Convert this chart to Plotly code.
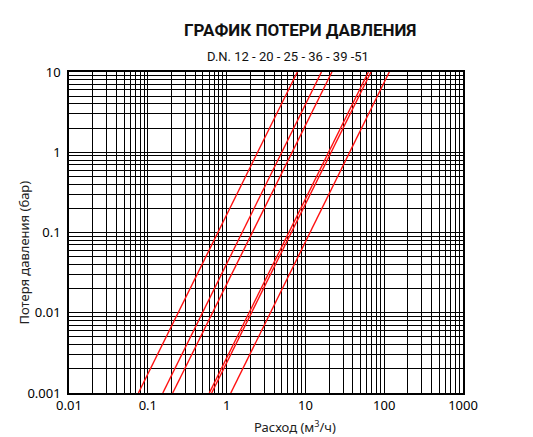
import plotly.graph_objects as go

# pressure loss chart, D.N. 12 - 51
dn_names = ["DN 12", "DN 20", "DN 25", "DN 36", "DN 39", "DN 51"]
# flow (m3/h) where each line crosses 0.001 bar and 10 bar
flow_at_min = [0.076, 0.155, 0.207, 0.603, 0.646, 1.13]
flow_at_max = [7.9, 16.0, 21.7, 63.0, 68.0, 116.0]
loss_ends = [0.001, 10]

x_ticks = [0.01, 0.1, 1, 10, 100, 1000]
x_labels = ["0.01", "0.1", "1", "10", "100", "1000"]
y_ticks = [0.001, 0.01, 0.1, 1, 10]
y_labels = ["0.001", "0.01", "0.1", "1", "10"]


def minor_vals(decades):
    vals = []
    for d in decades:
        for m in range(2, 10):
            vals.append(m * d)
    return vals


fig = go.Figure()
for name, q0, q1 in zip(dn_names, flow_at_min, flow_at_max):
    fig.add_trace(go.Scatter(
        x=[q0, q1], y=loss_ends, mode="lines", name=name,
        line=dict(color="#ff1010", width=1.4),
    ))

fig.update_xaxes(
    type="log", range=[-2, 3],
    tickmode="array", tickvals=x_ticks, ticktext=x_labels,
    showgrid=True, gridcolor="black", gridwidth=1,
    minor=dict(tickmode="array", tickvals=minor_vals(x_ticks[:-1]),
               showgrid=True, gridcolor="black", gridwidth=1),
    showline=True, linecolor="black", linewidth=1.5, mirror=True,
    ticks="", zeroline=False,
    tickfont=dict(family="Noto Sans", size=13, color="black"),
)
fig.update_yaxes(
    type="log", range=[-3, 1],
    tickmode="array", tickvals=y_ticks, ticktext=y_labels,
    showgrid=True, gridcolor="black", gridwidth=1,
    minor=dict(tickmode="array", tickvals=minor_vals(y_ticks[:-1]),
               showgrid=True, gridcolor="black", gridwidth=1),
    showline=True, linecolor="black", linewidth=1.5, mirror=True,
    ticks="", zeroline=False, ticklabelstandoff=4,
    tickfont=dict(family="Noto Sans", size=13, color="black"),
)

fig.add_annotation(
    text="<b>ГРАФИК ПОТЕРИ ДАВЛЕНИЯ</b>", xref="paper", yref="paper",
    x=0.587, y=1.131, xanchor="center", yanchor="middle", showarrow=False,
    font=dict(family="Roboto", size=17, color="#111"),
)
fig.add_annotation(
    text="D.N. 12 - 20 - 25 - 36 - 39 -51", xref="paper", yref="paper",
    x=0.555, y=1.047, xanchor="center", yanchor="middle", showarrow=False,
    font=dict(family="Roboto", size=13, color="#111"),
)
fig.add_annotation(
    text="Расход (м<sup>3</sup>/ч)", xref="paper", yref="paper",
    x=0.574, y=-0.103, xanchor="center", yanchor="middle", showarrow=False,
    font=dict(family="Noto Sans", size=13, color="#222"),
)
fig.add_annotation(
    text="Потеря давления (бар)", xref="paper", yref="paper",
    x=-0.113, y=0.439, xanchor="center", yanchor="middle",
    showarrow=False, textangle=-90,
    font=dict(family="Noto Sans", size=13, color="#222"),
)

fig.update_layout(
    width=533, height=437,
    margin=dict(l=61, r=78, t=64, b=52),
    showlegend=False,
    plot_bgcolor="white", paper_bgcolor="white",
)

fig.write_html("out.html")
